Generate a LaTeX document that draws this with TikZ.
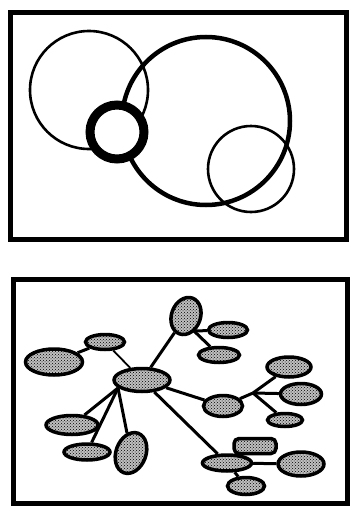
\documentclass[tikz,border=0pt]{standalone}
\usetikzlibrary{shapes.geometric,patterns,backgrounds}

\begin{document}
\begin{tikzpicture}[x=1pt,y=-1pt,
  frame/.style={draw=black,line width=5pt},
  ring/.style={draw=black,line width=2.6pt},
  blob/.style={ellipse,draw=black,line width=3.5pt,preaction={fill=black!25},pattern=crosshatch dots,inner sep=0pt},
  link/.style={draw=black,line width=3pt}
]
\useasboundingbox (0,0) rectangle (351,506);
% --- upper panel: overlapping circles ------------------------------------
\draw[frame] (10,12) rectangle (346,239);
\draw[ring] (89,90) circle[radius=59pt];
\draw[ring] (251,169) circle[radius=43pt];
\draw[draw=black,line width=4.5pt] (206,121) circle[radius=84pt];
\draw[draw=black,line width=9pt,fill=white] (117,132) circle[radius=27pt];
% --- lower panel: tree of blobs ------------------------------------------
\draw[frame] (13,279) rectangle (347,503);
\node[blob,minimum width=57pt,minimum height=26pt] (A) at (54,362) {};
\node[blob,minimum width=39pt,minimum height=15pt] (B) at (105,342) {};
\node[blob,minimum width=56pt,minimum height=23pt] (C) at (142,380) {};
\node[blob,minimum width=38pt,minimum height=29pt,rotate=70] (D) at (186,316) {};
\node[blob,minimum width=39pt,minimum height=15pt] (E) at (228,330) {};
\node[blob,minimum width=41pt,minimum height=15pt] (F) at (219,355) {};
\node[blob,minimum width=39pt,minimum height=21pt] (G) at (223,406) {};
\node[blob,minimum width=44pt,minimum height=20pt] (H) at (289,367) {};
\node[blob,minimum width=41pt,minimum height=21pt] (I) at (301,394) {};
\node[blob,minimum width=35pt,minimum height=13pt] (J) at (285,420) {};
\node[blob,minimum width=52pt,minimum height=19pt] (K) at (72,425) {};
\node[blob,minimum width=46pt,minimum height=16pt] (L) at (87,452) {};
\node[blob,minimum width=42pt,minimum height=30pt,rotate=70] (M) at (131,453) {};
\node[blob,minimum width=49pt,minimum height=16pt] (N) at (227,463) {};
\node[blob,rectangle,rounded corners=5pt,minimum width=42pt,minimum height=15pt] (O) at (255,446) {};
\node[blob,minimum width=46pt,minimum height=24pt] (P) at (301,464) {};
\node[blob,minimum width=37pt,minimum height=17pt] (Q) at (246,486) {};
\coordinate (cH) at (118,388);
\coordinate (dH) at (194,331);
\coordinate (gH) at (253,393);
\begin{scope}[on background layer]
\draw[draw=black,line width=1.8pt] (C) -- (B);
\draw[link] (B) -- (A);
\draw[link] (C) -- (D) -- (dH);
\foreach \t in {E,F}{\draw[link] (dH) -- (\t);}
\draw[link] (C) -- (G) -- (gH);
\foreach \t in {H,I,J}{\draw[link] (gH) -- (\t);}
\draw[link] (C) -- (N);
\foreach \t in {O,P,Q}{\draw[link] (N) -- (\t);}
\foreach \t in {K,L,M}{\draw[link] (cH) -- (\t);}
\end{scope}
\end{tikzpicture}
\end{document}
